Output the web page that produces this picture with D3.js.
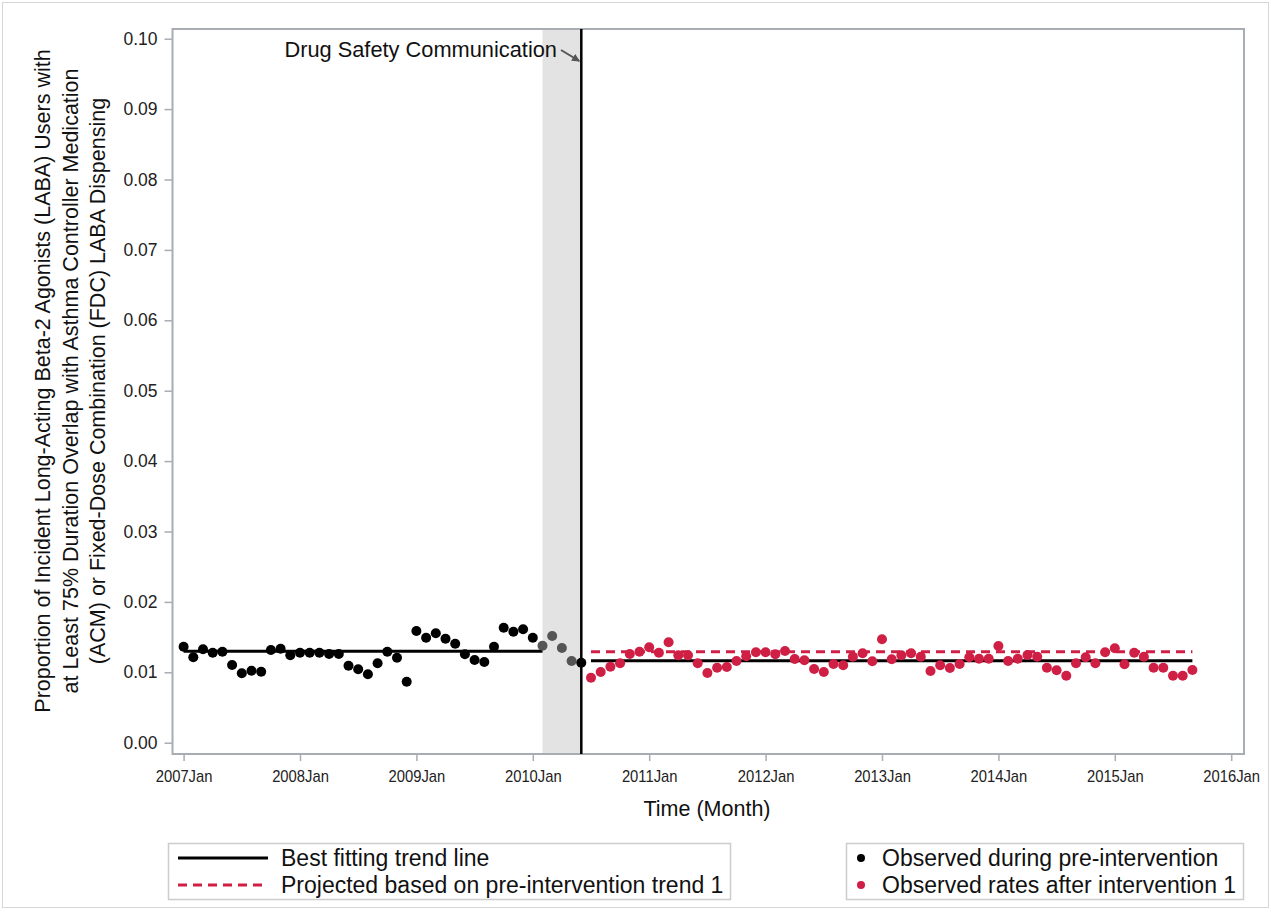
<!DOCTYPE html>
<html>
<head>
<meta charset="utf-8">
<script src="https://cdn.jsdelivr.net/npm/d3@7"></script>
<style>
  html, body { margin: 0; padding: 0; background: #fff; }
  svg { display: block; font-family: "Liberation Sans", Arial, sans-serif; }
</style>
</head>
<body>
<svg id="chart" width="1271" height="913"></svg>
<script>
// ---------- DATA ----------
// month index 0 = 2007 Jan
const preStartMonth = 0;           // 2007 Jan .. 2010 Jan
const preValues = [0.01364,0.01213,0.01327,0.01278,0.01293,0.01104,0.00986,0.01023,0.01009,0.01317,0.01335,0.01241,
                   0.01278,0.01278,0.01278,0.01260,0.01260,0.01094,0.01043,0.00972,0.01128,0.01293,0.01207,0.00866,
                   0.01587,0.01491,0.01554,0.01477,0.01406,0.01256,0.01175,0.01146,0.01364,0.01634,0.01577,0.01611,
                   0.01491];
const washoutStartMonth = 37;      // 2010 Feb .. 2010 May
const washoutValues = [0.01378,0.01516,0.01345,0.01161];
const interventionMonth = 41;      // 2010 Jun
const interventionValues = [0.01136];
const postStartMonth = 42;         // 2010 Jul .. 2015 Sep
const postValues = [0.00923,0.01004,0.01080,0.01128,0.01260,0.01293,0.01355,0.01278,0.01426,0.01241,0.01241,0.01128,
                    0.00990,0.01065,0.01075,0.01161,0.01227,0.01284,0.01284,0.01256,0.01303,0.01189,0.01170,0.01047,
                    0.01004,0.01118,0.01099,0.01222,0.01270,0.01156,0.01469,0.01185,0.01241,0.01270,0.01222,0.01018,
                    0.01099,0.01061,0.01118,0.01213,0.01193,0.01193,0.01374,0.01161,0.01193,0.01246,0.01222,0.01065,
                    0.01028,0.00952,0.01128,0.01213,0.01128,0.01284,0.01341,0.01114,0.01278,0.01222,0.01065,0.01065,
                    0.00952,0.00952,0.01033];
const preTrend = {start: 0, end: 37, value: 0.01298};
const postTrend = {start: 42, end: 104, value: 0.01165};
const projectedTrend = {start: 42, end: 104, value: 0.01293};
const washoutBand = {start: 37, end: 41};
const xTickMonths = [0,12,24,36,48,60,72,84,96,108];
const xTickLabels = ["2007Jan","2008Jan","2009Jan","2010Jan","2011Jan","2012Jan","2013Jan","2014Jan","2015Jan","2016Jan"];
const yTicks = [0,0.01,0.02,0.03,0.04,0.05,0.06,0.07,0.08,0.09,0.10];
const yTitleLines = ["Proportion of Incident Long-Acting Beta-2 Agonists (LABA) Users with",
                     "at Least 75% Duration Overlap with Asthma Controller Medication",
                     "(ACM) or Fixed-Dose Combination (FDC) LABA Dispensing"];
const annotationText = "Drug Safety Communication";
const xTitle = "Time (Month)";
const legendLines = ["Best fitting trend line", "Projected based on pre-intervention trend 1"];
const legendDots = ["Observed during pre-intervention", "Observed rates after intervention 1"];

// ---------- LAYOUT ----------
const RED = "#cf1f45", FRAME = "#a7adb3";
const frame = {x0: 172.5, x1: 1244, y0: 29, y1: 754};
const svg = d3.select("#chart");

// outer border
svg.append("rect").attr("x", 2.5).attr("y", 2.5).attr("width", 1266).attr("height", 905)
   .attr("fill", "none").attr("stroke", "#d6d6d6").attr("stroke-width", 1);

const x = d3.scaleLinear().domain([0, 108]).range([183.6, 1231.2]);
const y = d3.scaleLinear().domain([0, 0.10]).range([742.7, 38.7]);

// washout band
svg.append("rect")
   .attr("x", x(washoutBand.start)).attr("y", frame.y0)
   .attr("width", x(washoutBand.end) - x(washoutBand.start)).attr("height", frame.y1 - frame.y0)
   .attr("fill", "#e3e3e3");

// axes
const yAxis = d3.axisLeft(y).tickValues(yTicks).tickFormat(d3.format(".2f")).tickSize(8).tickPadding(7);
const gy = svg.append("g").attr("transform", `translate(${frame.x0},0)`).call(yAxis);
gy.select(".domain").remove();
gy.selectAll("line").attr("stroke", FRAME).attr("stroke-width", 1.5);
gy.selectAll("text").attr("fill", "#222").style("font-size", "17.5px");

const xAxis = d3.axisBottom(x).tickValues(xTickMonths).tickFormat((d, i) => xTickLabels[i]).tickSize(7).tickPadding(9);
const gx = svg.append("g").attr("transform", `translate(0,${frame.y1})`).call(xAxis);
gx.select(".domain").remove();
gx.selectAll("line").attr("stroke", FRAME).attr("stroke-width", 1.5);
gx.selectAll("text").attr("fill", "#222").style("font-size", "17px")
  .attr("transform", "scale(0.87,1)");

// frame
svg.append("rect").attr("x", frame.x0).attr("y", frame.y0)
   .attr("width", frame.x1 - frame.x0).attr("height", frame.y1 - frame.y0)
   .attr("fill", "none").attr("stroke", FRAME).attr("stroke-width", 2);

// intervention line
svg.append("line").attr("x1", x(interventionMonth)).attr("x2", x(interventionMonth))
   .attr("y1", frame.y0).attr("y2", frame.y1).attr("stroke", "#000").attr("stroke-width", 2.5);

// trend lines
function hline(t, color, dash) {
  const l = svg.append("line").attr("x1", x(t.start)).attr("x2", x(t.end))
     .attr("y1", y(t.value)).attr("y2", y(t.value))
     .attr("stroke", color).attr("stroke-width", 3);
  if (dash) l.attr("stroke-dasharray", dash);
}
hline(projectedTrend, RED, "9,6");
hline(preTrend, "#000");
hline(postTrend, "#000");

// points
function dots(vals, start, color) {
  svg.append("g").selectAll("circle").data(vals).join("circle")
     .attr("cx", (d, i) => x(start + i)).attr("cy", d => y(d)).attr("r", 5)
     .attr("fill", color);
}
dots(preValues, preStartMonth, "#000");
dots(washoutValues, washoutStartMonth, "#555");
dots(interventionValues, interventionMonth, "#000");
dots(postValues, postStartMonth, RED);

// annotation
svg.append("text").attr("x", 557).attr("y", 57).attr("text-anchor", "end")
   .style("font-size", "21.8px").attr("fill", "#111").text(annotationText);
svg.append("defs").append("marker").attr("id", "arr").attr("viewBox", "0 0 10 10")
   .attr("refX", 9).attr("refY", 5).attr("markerWidth", 4).attr("markerHeight", 4).attr("orient", "auto")
   .append("path").attr("d", "M0,0 L10,5 L0,10 z").attr("fill", "#555");
svg.append("line").attr("x1", 561).attr("y1", 50).attr("x2", x(interventionMonth) - 2).attr("y2", 61)
   .attr("stroke", "#555").attr("stroke-width", 2).attr("marker-end", "url(#arr)");

// axis titles
svg.append("text").attr("x", 707).attr("y", 816).attr("text-anchor", "middle")
   .style("font-size", "21.5px").attr("fill", "#111").text(xTitle);
const yTitleX = [50, 77.5, 104.5];
yTitleLines.forEach((s, i) => {
  svg.append("text").attr("transform", `translate(${yTitleX[i]},381) rotate(-90)`)
     .attr("text-anchor", "middle").style("font-size", "21.5px").attr("fill", "#111").text(s);
});

// legends
const lg1 = svg.append("g");
lg1.append("rect").attr("x", 168.5).attr("y", 843.5).attr("width", 562).attr("height", 56)
   .attr("fill", "none").attr("stroke", "#ccc").attr("stroke-width", 1.5);
[["#000", null], [RED, "9,6"]].forEach((s, i) => {
  const yy = 858 + i * 27;
  const l = lg1.append("line").attr("x1", 178).attr("x2", 268).attr("y1", yy).attr("y2", yy)
     .attr("stroke", s[0]).attr("stroke-width", 3);
  if (s[1]) l.attr("stroke-dasharray", s[1]);
  lg1.append("text").attr("x", 281).attr("y", yy + 7.5).style("font-size", "23px").attr("fill", "#111").text(legendLines[i]);
});
const lg2 = svg.append("g");
lg2.append("rect").attr("x", 846.5).attr("y", 843.5).attr("width", 397).attr("height", 56)
   .attr("fill", "none").attr("stroke", "#ccc").attr("stroke-width", 1.5);
["#000", RED].forEach((c, i) => {
  const yy = 858 + i * 27;
  lg2.append("circle").attr("cx", 861).attr("cy", yy).attr("r", 4).attr("fill", c);
  lg2.append("text").attr("x", 882).attr("y", yy + 7.5).style("font-size", "23px").attr("fill", "#111").text(legendDots[i]);
});
</script>
</body>
</html>
